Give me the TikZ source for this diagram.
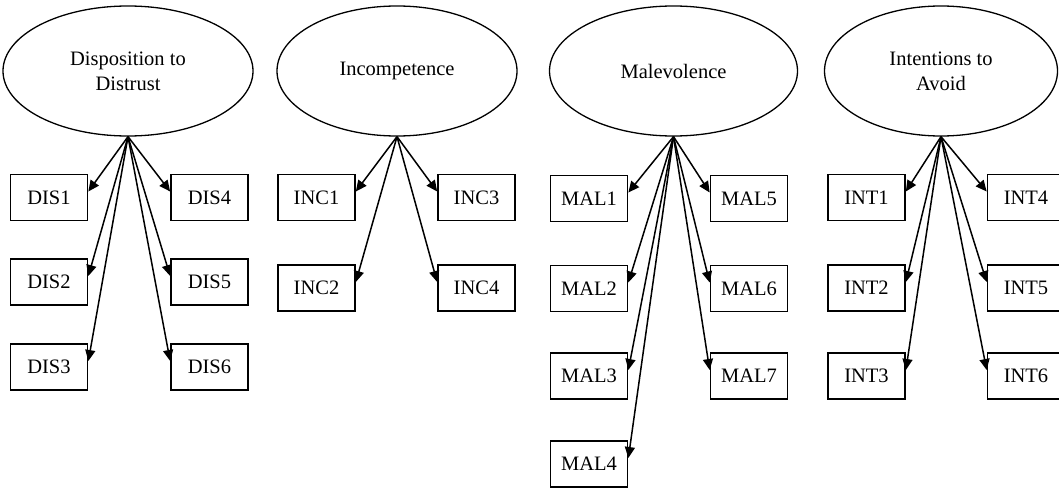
\documentclass[tikz,border=0pt]{standalone}
\usepackage{fontspec}
\setmainfont{Liberation Serif}
\usetikzlibrary{shapes.geometric,arrows.meta}

\begin{document}
\begin{tikzpicture}[x=1pt,y=-1pt,
  latent/.style={ellipse,draw,line width=1.3pt,inner sep=0pt,minimum height=130,
    align=center,font=\fontsize{20.5}{25}\selectfont},
  item/.style={rectangle,draw,line width=1.7pt,inner sep=0pt,minimum width=77,
    minimum height=46,font=\fontsize{20.5}{25}\selectfont},
  load/.style={line width=1.5pt,-{Triangle[length=11pt,width=10pt]}}]
\useasboundingbox (0,0) rectangle (1059,487);

% latent factors
\node[latent,minimum width=250] (dis) at (128,71) {Disposition to\\Distrust};
\node[latent,minimum width=240] (inc) at (397,71) {Incompetence};
\node[latent,minimum width=248] (mal) at (673.5,71) {Malevolence};
\node[latent,minimum width=233] (int) at (941,71) {Intentions to\\Avoid};

% indicators: Disposition to Distrust
\node[item] (dis1) at (49,197.5) {DIS1};
\node[item] (dis2) at (49,282) {DIS2};
\node[item] (dis3) at (49,367) {DIS3};
\node[item] (dis4) at (209.5,197.5) {DIS4};
\node[item] (dis5) at (209.5,282) {DIS5};
\node[item] (dis6) at (209.5,367) {DIS6};

% indicators: Incompetence
\node[item] (inc1) at (316.5,197.5) {INC1};
\node[item] (inc2) at (316.5,288) {INC2};
\node[item] (inc3) at (476.5,197.5) {INC3};
\node[item] (inc4) at (476.5,288) {INC4};

% indicators: Malevolence
\node[item] (mal1) at (589,198.5) {MAL1};
\node[item] (mal2) at (589,288.5) {MAL2};
\node[item] (mal3) at (589,376) {MAL3};
\node[item] (mal4) at (589,464) {MAL4};
\node[item] (mal5) at (749,198.5) {MAL5};
\node[item] (mal6) at (749,288.5) {MAL6};
\node[item] (mal7) at (749,376) {MAL7};

% indicators: Intentions to Avoid
\node[item] (int1) at (866.5,197.5) {INT1};
\node[item] (int2) at (866.5,288) {INT2};
\node[item] (int3) at (866.5,376) {INT3};
\node[item] (int4) at (1026,197.5) {INT4};
\node[item] (int5) at (1026,288) {INT5};
\node[item] (int6) at (1026,376) {INT6};

% loadings
\foreach \f/\l/\r in {dis/{dis1,dis2,dis3}/{dis4,dis5,dis6},
                      inc/{inc1,inc2}/{inc3,inc4},
                      mal/{mal1,mal2,mal3,mal4}/{mal5,mal6,mal7},
                      int/{int1,int2,int3}/{int4,int5,int6}}{
  \foreach \b in \l {\draw[load] (\f.south) -- ([yshift=6pt]\b.east);}
  \foreach \b in \r {\draw[load] (\f.south) -- ([yshift=6pt]\b.west);}
}
\end{tikzpicture}
\end{document}
